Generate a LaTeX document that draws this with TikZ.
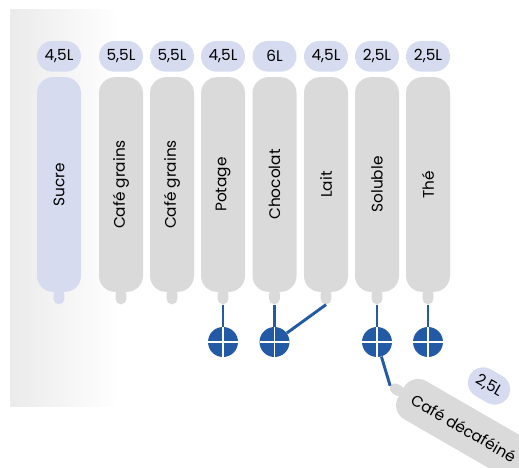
\documentclass[tikz,border=0pt]{standalone}
\usepackage{fontspec}
\setmainfont{Poppins}
\usetikzlibrary{positioning, calc}
\definecolor{tankgray}{HTML}{DADADA}
\definecolor{lavender}{HTML}{D6DBF0}
\definecolor{valveblue}{HTML}{235AA6}

\begin{document}
\begin{tikzpicture}[
  x=0.75pt, y=-0.75pt,
  tank/.style={
    rectangle, rounded corners=12pt,
    fill=#1, draw=none, inner sep=0pt,
    minimum width=161pt, minimum height=33pt,
    font=\fontsize{11.5}{13}\selectfont
  },
  tank/.default=tankgray,
  nozzle/.style={
    rectangle, rounded corners=4pt, fill=#1, inner sep=0pt,
    minimum width=12pt, minimum height=8pt, anchor=east
  },
  nozzle/.default=tankgray,
  volume/.style={
    rectangle, rounded corners=11.5pt, fill=lavender, inner sep=0pt,
    minimum width=33pt, minimum height=23pt,
    font=\fontsize{11.5}{13}\selectfont
  },
  valve/.style={
    circle, fill=valveblue, minimum size=22.5pt, inner sep=0pt,
    path picture={
      \draw[white, line width=1.4pt]
        (path picture bounding box.north) -- (path picture bounding box.south)
        (path picture bounding box.west) -- (path picture bounding box.east);
    }
  },
  pipe/.style={valveblue, line width=2.2pt}
]
\useasboundingbox (0,0) rectangle (519,468);

% Background shade behind the sugar tank
\fill[left color=black!8, right color=white] (10,9) rectangle (120,406);

% Tanks (rotated, nozzle at west)
\node[tank=lavender, rotate=90] (sucre)    at (59,184.5)  {Sucre};
\node[tank, rotate=90]          (grains1)  at (121,184.5) {Café grains};
\node[tank, rotate=90]          (grains2)  at (172,184.5) {Café grains};
\node[tank, rotate=90]          (potage)   at (223,184.5) {Potage};
\node[tank, rotate=90]          (chocolat) at (274.5,184.5) {Chocolat};
\node[tank, rotate=90]          (lait)     at (326,184.5) {Lait};
\node[tank, rotate=90]          (soluble)  at (377,184.5) {Soluble};
\node[tank, rotate=90]          (the)      at (428,184.5) {Thé};
\node[tank, rotate=-30, anchor=west, minimum width=108pt]
                                (decaf)    at (401,392)   {Café décaféiné};

% Nozzles
\node[nozzle=lavender, rotate=90] (sucre-tip)    at ($(sucre.west)!3pt!(sucre.center)$) {};
\node[nozzle, rotate=90]          (grains1-tip)  at ($(grains1.west)!3pt!(grains1.center)$) {};
\node[nozzle, rotate=90]          (grains2-tip)  at ($(grains2.west)!3pt!(grains2.center)$) {};
\node[nozzle, rotate=90]          (potage-tip)   at ($(potage.west)!3pt!(potage.center)$) {};
\node[nozzle, rotate=90]          (chocolat-tip) at ($(chocolat.west)!3pt!(chocolat.center)$) {};
\node[nozzle, rotate=90]          (lait-tip)     at ($(lait.west)!3pt!(lait.center)$) {};
\node[nozzle, rotate=90]          (soluble-tip)  at ($(soluble.west)!3pt!(soluble.center)$) {};
\node[nozzle, rotate=90]          (the-tip)      at ($(the.west)!3pt!(the.center)$) {};
\node[nozzle, rotate=-30]         (decaf-tip)    at ($(decaf.west)!3pt!(decaf.center)$) {};

% Volumes
\node[volume, above=3.75pt of sucre.east]    (sucre-vol)    {4,5L};
\node[volume, above=3.75pt of grains1.east]  (grains1-vol)  {5,5L};
\node[volume, above=3.75pt of grains2.east]  (grains2-vol)  {5,5L};
\node[volume, above=3.75pt of potage.east]   (potage-vol)   {4,5L};
\node[volume, above=3.75pt of chocolat.east] (chocolat-vol) {6L};
\node[volume, above=3.75pt of lait.east]     (lait-vol)     {4,5L};
\node[volume, above=3.75pt of soluble.east]  (soluble-vol)  {2,5L};
\node[volume, above=3.75pt of the.east]      (the-vol)      {2,5L};
\node[volume, rotate=-30]                    (decaf-vol)    at (489,386) {2,5L};

% Valves
\node[valve] (potage-valve)   at (223,342)   {};
\node[valve] (chocolat-valve) at (274.5,342) {};
\node[valve] (soluble-valve)  at (377,342)   {};
\node[valve] (the-valve)      at (428,342)   {};

% Pipes
\draw[pipe] (potage-tip.west)   -- (potage-valve);
\draw[pipe] (chocolat-tip.west) -- (chocolat-valve);
\draw[pipe] (lait-tip.west)     -- (chocolat-valve);
\draw[pipe] (soluble-tip.west)  -- (soluble-valve);
\draw[pipe] (the-tip.west)      -- (the-valve);
\draw[pipe] (soluble-valve)     -- (decaf-tip.west);

\end{tikzpicture}
\end{document}
